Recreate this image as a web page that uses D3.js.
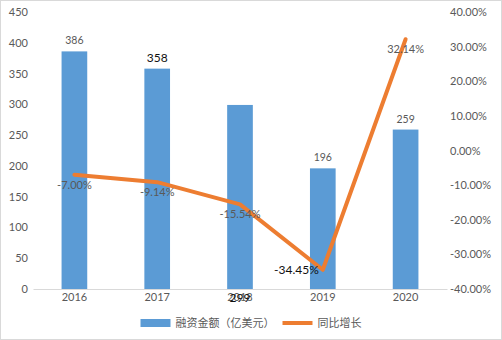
<!DOCTYPE html>
<html>
<head>
<meta charset="utf-8">
<script src="https://cdn.jsdelivr.net/npm/d3@7"></script>
<style>
  html, body { margin: 0; padding: 0; background: #fff; }
  svg { display: block; }
  text { font-family: Lato, "Noto Sans CJK SC", sans-serif; }
</style>
</head>
<body>
<svg id="chart" width="502" height="340"></svg>
<script>
// Yearly values and year-on-year growth
const years = ["2016", "2017", "2018", "2019", "2020"];
const amounts = [386, 358, 299, 196, 259];
const growth = [-7.00, -9.14, -15.54, -34.45, 32.14];
const leftTicks = [0, 50, 100, 150, 200, 250, 300, 350, 400, 450];
const rightTicks = [-40, -30, -20, -10, 0, 10, 20, 30, 40];
const seriesNames = ["融资金额（亿美元）", "同比增长"];

const W = 502, H = 340;
const plot = { left: 33, right: 447, top: 12, bottom: 289 };
const BLUE = "#5B9BD5", ORANGE = "#ED7D31", GREY = "#595959", DARK = "#111";

// percent with a plain hyphen for negatives
const pct = d => (d < 0 ? "-" : "") + Math.abs(d).toFixed(2) + "%";

const svg = d3.select("#chart");

// outer frame
svg.append("rect")
  .attr("x", 0.5).attr("y", 0.5).attr("width", W - 1).attr("height", H - 1)
  .attr("fill", "#fff").attr("stroke", "#d9d9d9");

const x = d3.scaleBand().domain(years).range([plot.left, plot.right]).padding(0);
const yL = d3.scaleLinear().domain([0, 450]).range([plot.bottom, plot.top]);
const yR = d3.scaleLinear().domain([-40, 40]).range([plot.bottom, plot.top]);
const cx = d => x(d) + x.bandwidth() / 2;
const barW = x.bandwidth() * 0.31;

// left axis
const leftAxis = svg.append("g")
  .attr("transform", `translate(${plot.left - 5},0)`)
  .call(d3.axisLeft(yL).tickValues(leftTicks).tickSize(0).tickPadding(0));
leftAxis.select(".domain").remove();
leftAxis.selectAll("text").attr("fill", GREY).style("font-size", "11px");

// right axis
const rightAxis = svg.append("g")
  .attr("transform", `translate(${plot.right + 3},0)`)
  .call(d3.axisRight(yR).tickValues(rightTicks).tickSize(0).tickPadding(0).tickFormat(pct));
rightAxis.select(".domain").remove();
rightAxis.selectAll("text").attr("fill", GREY).style("font-size", "11px");

// bars
svg.append("g").selectAll("rect")
  .data(years)
  .join("rect")
  .attr("x", d => cx(d) - barW / 2)
  .attr("width", barW)
  .attr("y", (d, i) => yL(amounts[i]))
  .attr("height", (d, i) => yL(0) - yL(amounts[i]))
  .attr("fill", BLUE);

// category axis
const bottomAxis = svg.append("g")
  .attr("transform", `translate(0,${plot.bottom})`)
  .call(d3.axisBottom(x).tickSize(0).tickPadding(4));
bottomAxis.select(".domain").attr("stroke", "#d9d9d9").attr("stroke-width", 1.2);
bottomAxis.selectAll("text").attr("fill", GREY).style("font-size", "11px");

// bar value labels
const barLabelStyle = [
  { color: GREY, size: 10.5, atAxis: false },
  { color: DARK, size: 12, atAxis: false },
  { color: DARK, size: 12, atAxis: true },
  { color: GREY, size: 10.5, atAxis: false },
  { color: GREY, size: 10.5, atAxis: false }
];
svg.append("g").selectAll("text")
  .data(years)
  .join("text")
  .attr("x", d => cx(d))
  .attr("y", (d, i) => barLabelStyle[i].atAxis ? yL(0) + 13 : yL(amounts[i]) - 7)
  .attr("text-anchor", "middle")
  .attr("fill", (d, i) => barLabelStyle[i].color)
  .style("font-size", (d, i) => barLabelStyle[i].size + "px")
  .text((d, i) => amounts[i]);

// growth line
const line = d3.line()
  .x((d, i) => cx(years[i]))
  .y(d => yR(d));
svg.append("path")
  .datum(growth)
  .attr("d", line)
  .attr("fill", "none")
  .attr("stroke", ORANGE)
  .attr("stroke-width", 4)
  .attr("stroke-linejoin", "round")
  .attr("stroke-linecap", "round");

// growth labels
const lineLabelStyle = [
  { color: GREY, size: 11, pos: "below" },
  { color: GREY, size: 11, pos: "below" },
  { color: GREY, size: 11, pos: "below" },
  { color: DARK, size: 12, pos: "left" },
  { color: GREY, size: 11, pos: "below" }
];
svg.append("g").selectAll("text")
  .data(growth)
  .join("text")
  .attr("x", (d, i) => lineLabelStyle[i].pos === "left" ? cx(years[i]) - 4 : cx(years[i]))
  .attr("y", (d, i) => lineLabelStyle[i].pos === "left" ? yR(d) + 4 : yR(d) + 14)
  .attr("text-anchor", (d, i) => lineLabelStyle[i].pos === "left" ? "end" : "middle")
  .attr("fill", (d, i) => lineLabelStyle[i].color)
  .style("font-size", (d, i) => lineLabelStyle[i].size + "px")
  .text(pct);

// legend
const legend = svg.append("g").attr("transform", "translate(0,323)");
const legendFont = 11;
const item1 = legend.append("g");
item1.append("rect").attr("x", 0).attr("y", -4).attr("width", 30).attr("height", 8).attr("fill", BLUE);
item1.append("text").attr("x", 35).attr("y", 4).attr("fill", GREY)
  .style("font-size", legendFont + "px").style("font-family", "'Noto Sans CJK SC', sans-serif")
  .text(seriesNames[0]);
const w1 = 35 + item1.select("text").node().getComputedTextLength();
const item2 = legend.append("g").attr("transform", `translate(${w1 + 8},0)`);
item2.append("line").attr("x1", 0).attr("x2", 30).attr("y1", 0).attr("y2", 0)
  .attr("stroke", ORANGE).attr("stroke-width", 4);
item2.append("text").attr("x", 35).attr("y", 4).attr("fill", GREY)
  .style("font-size", legendFont + "px").style("font-family", "'Noto Sans CJK SC', sans-serif")
  .text(seriesNames[1]);
const total = w1 + 8 + 35 + item2.select("text").node().getComputedTextLength();
legend.attr("transform", `translate(${(W - total) / 2},323)`);
</script>
</body>
</html>
